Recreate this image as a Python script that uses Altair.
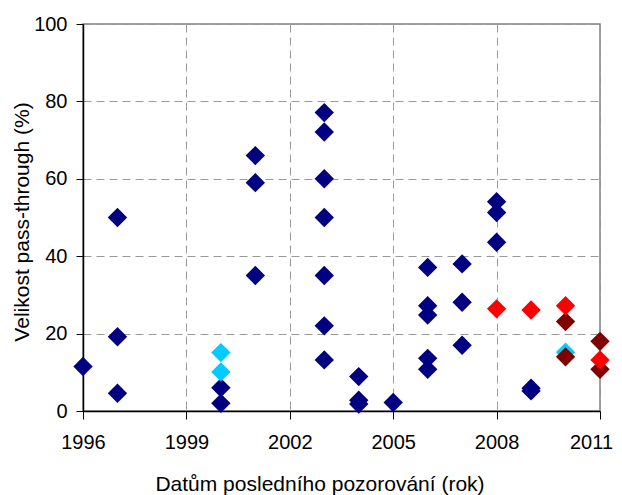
import altair as alt
import pandas as pd

# --- data ---
navy_years = [1996, 1997, 1997, 1997, 2000, 2000, 2001, 2001, 2001,
              2003, 2003, 2003, 2003, 2003, 2003, 2003,
              2004, 2004, 2004, 2005,
              2006, 2006, 2006, 2006, 2006,
              2007, 2007, 2007, 2008, 2008, 2008, 2009, 2009]
navy_values = [11.5, 50.0, 19.2, 4.6, 6.0, 2.0, 66.0, 59.0, 35.0,
               77.1, 72.1, 60.0, 50.0, 35.0, 22.0, 13.2,
               8.9, 2.8, 1.8, 2.2,
               37.1, 27.2, 24.8, 13.6, 10.8,
               38.0, 28.1, 17.0, 54.1, 51.3, 43.6, 5.9, 5.2]

cyan_years = [2000, 2000, 2010]
cyan_values = [15.1, 10.1, 15.2]

darkred_years = [2010, 2010, 2011, 2011]
darkred_values = [23.1, 14.0, 18.0, 10.8]

red_years = [2008, 2009, 2010, 2011]
red_values = [26.4, 26.1, 27.2, 13.2]

series_names = ["navy", "cyan", "darkred", "red"]
series_colors = ["#000080", "#00CCFF", "#800000", "#FF0000"]

x_ticks = [1996, 1999, 2002, 2005, 2008, 2011]
y_ticks = [0, 20, 40, 60, 80, 100]

rows = []
for name, ys, vs in [("navy", navy_years, navy_values),
                     ("cyan", cyan_years, cyan_values),
                     ("darkred", darkred_years, darkred_values),
                     ("red", red_years, red_values)]:
    for yr, v in zip(ys, vs):
        rows.append({"rok": yr, "pt": v, "serie": name})
df = pd.DataFrame(rows)
df["poradi"] = range(len(df))

FONT = "Liberation Sans"

chart = alt.Chart(df).mark_point(
    shape="diamond", filled=True, size=375, opacity=1, strokeWidth=0
).encode(
    x=alt.X("rok:Q",
            scale=alt.Scale(domain=[1996, 2011], nice=False, zero=False),
            axis=alt.Axis(values=x_ticks, format="d",
                          title="Datům posledního pozorování (rok)",
                          titleX=236.5, titleY=79.5, titleBaseline="alphabetic",
                          titleAlign="center",
                          labelBaseline="alphabetic", labelPadding=29,
                          labelOffset={"condition": {"test": "datum.value === 2011", "value": -9},
                                       "value": 0},
                          tickSize=8, labelFlush=False)),
    y=alt.Y("pt:Q",
            scale=alt.Scale(domain=[0, 100], nice=False),
            axis=alt.Axis(values=y_ticks, format="d",
                          title="Velikost pass-through (%)",
                          titleX=-61, titleY=197.5, titleBaseline="middle",
                          titleAlign="center", titleAngle=-90,
                          labelPadding=9, tickSize=7, labelFlush=False)),
    color=alt.Color("serie:N",
                    scale=alt.Scale(domain=series_names, range=series_colors),
                    legend=None),
    order=alt.Order("poradi:Q"),
).properties(
    width=517, height=387,
    autosize=alt.AutoSizeParams(type="none"),
    padding={"left": 75, "top": 16, "right": 14, "bottom": 84},
    background="white",
).configure_view(
    stroke="#808080", strokeWidth=1.5
).configure_axis(
    labelFont=FONT, titleFont=FONT,
    labelFontSize=20, titleFontSize=21, titleFontWeight="normal",
    labelColor="black", titleColor="black",
    domainColor="black", domainWidth=1.5,
    tickColor="black", tickWidth=1,
    gridColor="#999999", gridDash=[8, 5], gridWidth=1,
)

chart.save("out.html", embed_options={"renderer": "svg", "actions": False})
